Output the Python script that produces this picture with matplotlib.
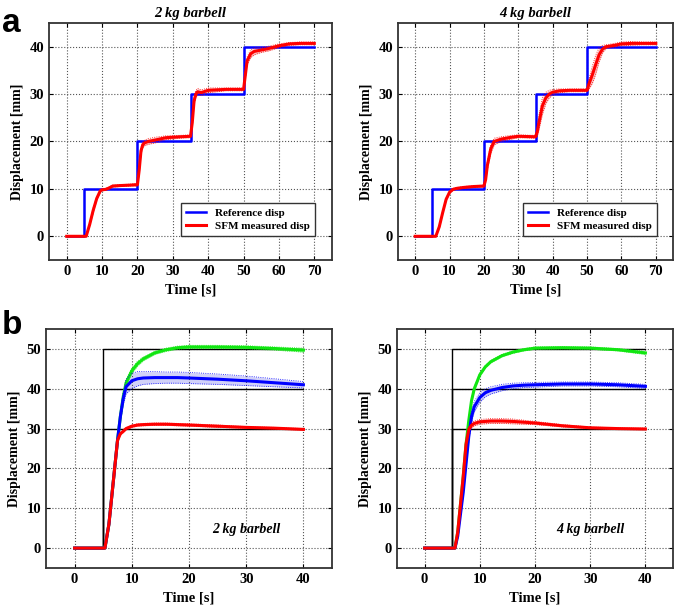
import matplotlib.pyplot as plt
import numpy as np

plt.rcParams['font.family'] = ['Liberation Serif', 'DejaVu Serif']
plt.rcParams['font.weight'] = 'bold'

# ---- panel a : step test (reference vs SFM measured) ----
ref_t = [0, 5, 5, 20, 20, 35, 35, 50, 50, 70]
ref_d = [0, 0, 10, 10, 20, 20, 30, 30, 40, 40]

t2 = [0, 5.5, 6.5, 7.5, 8.5, 9.5, 10, 11, 12, 13, 15, 18, 20, 20.5, 21, 21.5, 22, 23, 25, 28, 32, 35,
      35.5, 36, 36.5, 37, 38, 40, 45, 50, 50.5, 51, 52, 53, 55, 57, 60, 63, 66, 70]
d2 = [0, 0, 2.5, 5.5, 8, 9.6, 9.8, 9.9, 10.2, 10.6, 10.7, 10.8, 10.9, 14, 18, 19.3, 19.7, 20, 20.3, 20.8, 21, 21.1,
      24, 28.5, 30, 30.5, 30.3, 30.8, 31, 31, 34, 37, 38.5, 39, 39.3, 39.6, 40.2, 40.6, 40.7, 40.7]
s2 = [0, 0, 0.3, 0.5, 0.4, 0.3, 0.2, 0.2, 0.2, 0.2, 0.2, 0.2, 0.3, 0.8, 0.8, 0.6, 0.6, 0.6, 0.6, 0.4, 0.3, 0.3,
      0.8, 0.8, 0.7, 0.7, 0.6, 0.5, 0.3, 0.3, 0.8, 0.8, 0.8, 0.7, 0.5, 0.5, 0.4, 0.3, 0.3, 0.3]

t4 = [0, 6, 7, 8, 9, 10, 11, 12, 14, 17, 20, 20.5, 21, 22, 23, 25, 28, 30, 35,
      35.5, 36, 37, 38, 39, 40, 42, 45, 50, 50.5, 51.5, 52.5, 53.5, 54.5, 55.5, 58, 60, 63, 66, 70]
d4 = [0, 0, 2, 5, 7.8, 9.3, 9.9, 10.1, 10.3, 10.5, 10.6, 12, 15, 18.5, 20, 20.5, 20.9, 21.1, 21,
      22, 24, 27.5, 29.2, 30, 30.4, 30.7, 30.8, 30.8, 32, 34, 36.2, 38.3, 39.5, 40, 40.3, 40.6, 40.7, 40.7, 40.7]
s4 = [0, 0, 0.3, 0.3, 0.3, 0.3, 0.2, 0.2, 0.2, 0.2, 0.2, 0.6, 0.9, 1.0, 0.7, 0.5, 0.4, 0.3, 0.3,
      1.0, 1.5, 1.8, 1.2, 0.8, 0.6, 0.4, 0.3, 0.3, 1.0, 1.8, 2.0, 1.5, 0.8, 0.4, 0.4, 0.4, 0.4, 0.3, 0.3]

# ---- panel b : different target displacements ----
tb = [0, 5.3, 6, 7, 7.5, 8, 8.5, 9, 10, 11, 12, 14, 16, 18, 20, 25, 30, 35, 40]

g2 = [0, 0, 6, 20, 27, 33, 38, 41.5, 44.5, 46.3, 47.5, 49, 49.8, 50.3, 50.5, 50.5, 50.4, 50.1, 49.7]
g2s = [0, 0, 0.5, 0.8, 0.8, 0.8, 0.8, 0.8, 0.7, 0.6, 0.5, 0.4, 0.4, 0.4, 0.4, 0.4, 0.4, 0.4, 0.5]
b2 = [0, 0, 6, 20, 27, 33, 37.5, 40.5, 42, 42.5, 42.7, 42.8, 42.8, 42.8, 42.7, 42.4, 42, 41.5, 41]
b2s = [0, 0, 0.5, 0.8, 1, 1.2, 1.5, 1.8, 1.9, 1.8, 1.6, 1.5, 1.4, 1.4, 1.4, 1.3, 1.2, 1.0, 0.8]
r2 = [0, 0, 6, 20, 27, 28.7, 29.3, 30, 30.6, 30.9, 31, 31.1, 31.1, 31, 30.9, 30.6, 30.3, 30.1, 29.8]
r2s = [0, 0, 0.3, 0.4, 0.4, 0.3, 0.3, 0.3, 0.3, 0.3, 0.3, 0.3, 0.3, 0.3, 0.3, 0.3, 0.2, 0.2, 0.2]

tb4 = [0, 5.5, 6, 7, 7.5, 8, 8.5, 9, 10, 11, 12, 14, 16, 18, 20, 25, 30, 35, 40]
g4 = [0, 0, 4, 18, 26, 32, 37, 40, 43.5, 45.5, 46.8, 48.3, 49.2, 49.8, 50.2, 50.3, 50.2, 49.8, 49]
g4s = [0, 0, 0.4, 0.5, 0.5, 0.5, 0.5, 0.5, 0.4, 0.3, 0.3, 0.3, 0.3, 0.3, 0.3, 0.3, 0.3, 0.3, 0.4]
b4 = [0, 0, 3, 14, 21, 28, 33, 35.5, 37.8, 39, 39.6, 40.3, 40.7, 40.9, 41, 41.2, 41.2, 41, 40.6]
b4s = [0, 0, 0.5, 0.8, 1.0, 1.2, 1.3, 1.3, 1.2, 1.0, 0.9, 0.8, 0.7, 0.6, 0.6, 0.5, 0.5, 0.5, 0.5]
r4 = [0, 0, 4, 18, 26, 29.8, 30.8, 31.3, 31.7, 31.8, 31.9, 31.9, 31.8, 31.6, 31.4, 30.7, 30.2, 30, 29.9]
r4s = [0, 0, 0.4, 0.5, 0.6, 0.6, 0.6, 0.6, 0.6, 0.6, 0.6, 0.6, 0.6, 0.5, 0.4, 0.3, 0.2, 0.2, 0.2]

targets = [30, 40, 50]
step_t = [0, 5, 5, 40]

BLUE = '#0000ff'
RED = '#ff0000'
GREEN = '#11e611'


def band(ax, t, d, s, color, fill, lw=2.2):
    d = np.array(d)
    s = np.array(s)
    ax.fill_between(t, d - s, d + s, color=fill, alpha=0.45, lw=0)
    ax.plot(t, d - s, color=color, lw=0.6, ls=':')
    ax.plot(t, d + s, color=color, lw=0.6, ls=':')
    ax.plot(t, d, color=color, lw=lw)


def style(ax, xlim, ylim, xticks, yticks):
    ax.set_xlim(xlim)
    ax.set_ylim(ylim)
    ax.set_xticks(xticks)
    ax.set_yticks(yticks)
    ax.grid(True, color='#555555', ls=':', lw=0.8)
    ax.tick_params(direction='in', top=True, right=True, labelsize=10.5, length=3)
    for sp in ax.spines.values():
        sp.set_linewidth(1.3)
        sp.set_color('#333333')
    ax.set_xlabel('Time [s]', fontsize=10.5, fontweight='bold')
    ax.set_ylabel('Displacement [mm]', fontsize=10, fontweight='bold')


fig = plt.figure(figsize=(6.85, 6.09), dpi=100)
W, H = 685, 609


def add_ax(l, t, r, b):
    return fig.add_axes([l / W, 1 - b / H, (r - l) / W, (b - t) / H])


ax1 = add_ax(49, 23, 332, 260)
ax2 = add_ax(398, 23, 673, 260)
ax3 = add_ax(46, 329, 332, 568)
ax4 = add_ax(397, 329, 673, 568)

for ax, t, d, s, title in [(ax1, t2, d2, s2, '2 kg barbell'), (ax2, t4, d4, s4, '4 kg barbell')]:
    ax.plot(ref_t, ref_d, color=BLUE, lw=1.8, label='Reference disp')
    band(ax, t, d, s, RED, '#f08080')
    ax.plot([], [], color=RED, lw=2.2, label='SFM measured disp')
    style(ax, (-5, 75), (-5, 45), range(0, 71, 10), range(0, 41, 10))
    ax.set_title(title, fontsize=10.5, fontweight='bold', style='italic', pad=4)
    h, l = ax.get_legend_handles_labels()
    leg = ax.legend(h, l, loc='lower right', bbox_to_anchor=(0.94, 0.10), fontsize=8,
                    fancybox=False, edgecolor='#333333', framealpha=1, handlelength=1.8,
                    labelspacing=0.35, borderpad=0.45, borderaxespad=0)
    leg.get_frame().set_linewidth(1.0)

for ax, t, series, label in [
        (ax3, tb, [(g2, g2s, GREEN, '#7cf07c'), (b2, b2s, BLUE, '#9a9af0'), (r2, r2s, RED, '#f08080')], '2 kg barbell'),
        (ax4, tb4, [(g4, g4s, GREEN, '#7cf07c'), (b4, b4s, BLUE, '#9a9af0'), (r4, r4s, RED, '#f08080')], '4 kg barbell')]:
    for tg in targets:
        ax.plot(step_t, [0, 0, tg, tg], color='black', lw=1.0)
    for d, s, c, f in series:
        band(ax, t, d, s, c, f)
    style(ax, (-5, 45), (-5, 55), range(0, 41, 10), range(0, 51, 10))
    ax.text(30, 4.6, label, fontsize=10, fontweight='bold', style='italic', ha='center', va='center')

fig.text(2 / W, 1 - 24 / H, 'a', fontsize=24, fontweight='bold', family='Liberation Sans', va='center')
fig.text(2 / W, 1 - 326 / H, 'b', fontsize=24, fontweight='bold', family='Liberation Sans', va='center')

fig.savefig('out.png', dpi=100)
